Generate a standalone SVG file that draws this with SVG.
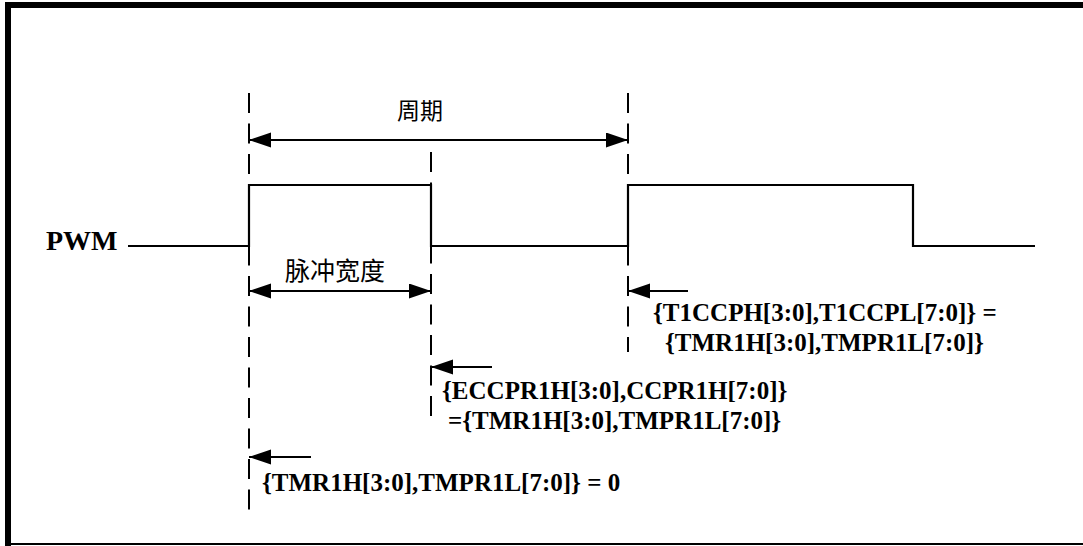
<svg xmlns="http://www.w3.org/2000/svg" width="1083" height="546" viewBox="0 0 1083 546">
<defs>
<marker id="ah" markerUnits="userSpaceOnUse" markerWidth="24" markerHeight="16" refX="22" refY="7.5" orient="auto-start-reverse">
<path d="M0,0 L22,7.5 L0,15 Z" fill="#000"/>
</marker>
<style>
.frame{stroke:#000;fill:none}
.dash{stroke:#000;stroke-width:2;stroke-dasharray:20 10.5;fill:none}
.sig{stroke:#000;stroke-width:2.2;fill:none}
.arr{stroke:#000;stroke-width:2.2;fill:none}
.lbl{font-family:"Liberation Serif","Times New Roman",serif;font-weight:bold;font-size:25px;fill:#000}
.cjk{font-family:"Noto Sans CJK SC",sans-serif;fill:#000}
</style>
</defs>
<rect width="1083" height="546" fill="#fff"/>
<g id="frame">
<line class="frame" x1="5" y1="5" x2="1083" y2="5" stroke-width="6"/>
<line class="frame" x1="8" y1="2" x2="8" y2="546" stroke-width="6"/>
<line class="frame" x1="8" y1="544" x2="1083" y2="544" stroke-width="2" stroke="#333"/>
</g>
<g id="guides">
<line class="dash" x1="249" y1="93" x2="249" y2="512"/>
<line class="dash" x1="431" y1="152" x2="431" y2="418"/>
<line class="dash" x1="628" y1="93" x2="628" y2="352"/>
</g>
<g id="pwm">
<text class="lbl" x="46" y="250" font-size="28" style="font-size:28px">PWM</text>
<polyline class="sig" points="128,246 249,246 249,185 431,185 431,246 628,246 628,185 913,185 913,246 1035,246"/>
</g>
<g id="connectors">
<line class="arr" x1="249" y1="140" x2="628" y2="140" marker-start="url(#ah)" marker-end="url(#ah)"/>
<line class="arr" x1="249" y1="291" x2="431" y2="291" marker-start="url(#ah)" marker-end="url(#ah)"/>
<line class="arr" x1="688" y1="291" x2="628" y2="291" marker-end="url(#ah)"/>
<line class="arr" x1="492" y1="367" x2="431" y2="367" marker-end="url(#ah)"/>
<line class="arr" x1="311" y1="457" x2="249" y2="457" marker-end="url(#ah)"/>
</g>
<g id="period">
<text class="cjk" x="420" y="119" text-anchor="middle" font-size="23">周期</text>
</g>
<g id="pulsewidth">
<text class="cjk" x="335" y="280" text-anchor="middle" font-size="25">脉冲宽度</text>
</g>
<g id="label-period-end">
<text class="lbl" x="653" y="321">{T1CCPH[3:0],T1CCPL[7:0]} =</text>
<text class="lbl" x="665" y="351">{TMR1H[3:0],TMPR1L[7:0]}</text>
</g>
<g id="label-duty-end">
<text class="lbl" x="442" y="399">{ECCPR1H[3:0],CCPR1H[7:0]}</text>
<text class="lbl" x="448" y="429">={TMR1H[3:0],TMPR1L[7:0]}</text>
</g>
<g id="label-start">
<text class="lbl" x="262" y="491">{TMR1H[3:0],TMPR1L[7:0]} = 0</text>
</g>
</svg>
